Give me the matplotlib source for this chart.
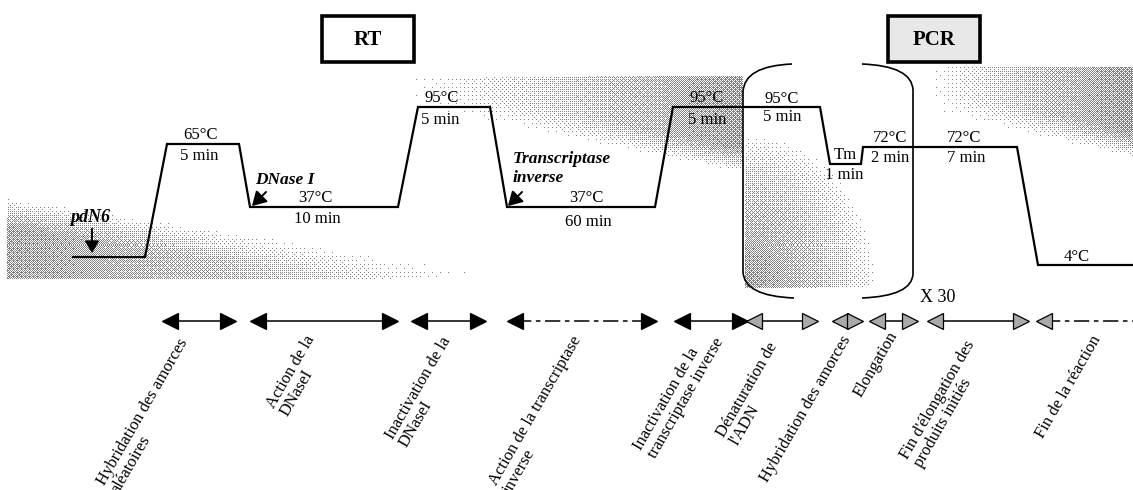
import numpy as np
import matplotlib
matplotlib.use("Agg")
import matplotlib.pyplot as plt
from matplotlib.patches import Rectangle, PathPatch
from matplotlib.path import Path

plt.rcParams['font.family'] = ['Liberation Serif', 'DejaVu Serif']

# thermal profile: plateaus (x start, x end, level) in drawing units
plateau_x0 = [73, 167, 250, 418, 507, 673, 830, 863, 1038]
plateau_x1 = [145, 239, 398, 490, 655, 820, 861, 1017, 1133]
plateau_y = [257, 144, 207, 107, 207, 107, 164, 147, 265]

# step labels: temperature above, duration below
temp_text = ['65°C', '37°C', '95°C', '37°C', '95°C', '95°C', 'Tm', '72°C', '72°C', '4°C']
temp_x = [200, 315, 442, 586, 707, 782, 845, 890, 964, 1077]
temp_y = [135, 198, 98, 198, 98, 99, 155, 138, 138, 257]
dur_text = ['5 min', '10 min', '5 min', '60 min', '5 min', '5 min', '1 min', '2 min', '7 min']
dur_x = [199, 317, 440, 588, 707, 782, 844, 890, 966]
dur_y = [156, 219, 120, 222, 120, 117, 175, 158, 158]

# phase arrows along the bottom
span_x0 = [163, 251, 412, 508, 675, 747, 833, 870, 928, 1037]
span_x1 = [235, 397, 485, 656, 747, 817, 862, 917, 1028, 1140]
span_dashed = [False, False, False, True, False, False, False, False, False, True]
span_head = ['k', 'k', 'k', 'k', 'k', '#aaaaaa', '#aaaaaa', '#aaaaaa', '#aaaaaa', '#aaaaaa']
span_right_head = [True] * 9 + [False]

phase_labels = [
    "Hybridation des amorces\naléatoires",
    "Action de la\nDNaseI",
    "Inactivation de la\nDNaseI",
    "Action de la transcriptase\ninverse",
    "Inactivation de la\ntranscriptase inverse",
    "Dénaturation de\nl'ADN",
    "Hybridation des amorces",
    "Elongation",
    "Fin d'élongation des\nproduits initiés",
    "Fin de la réaction",
]
phase_ax = [177, 304, 440, 571, 699, 767, 840, 887, 964, 1090]
phase_ay = [336, 333, 334, 333, 327, 340, 333, 329, 338, 333]

W, H = 1133, 490
fig = plt.figure(figsize=(W / 100, H / 100), dpi=100)
ax = fig.add_axes([0, 0, 1, 1])
ax.set_xlim(0, W)
ax.set_ylim(H, 0)
ax.axis('off')

# stippled background (ordered dither of a few grey washes)
yy, xx = np.mgrid[0:H, 0:W].astype(float)
dens = np.zeros((H, W))

# bottom left
top = 198 + xx * 0.15
d = 0.6 * np.clip(1 - xx / 480, 0, 1) ** 0.9 * np.clip((yy - top) / 30, 0, 1)
d[(yy > 278) | (xx < 7)] = 0
dens += d
# upper middle band, darker towards the loop
bot = 80 + (xx - 400) * 0.2
d = 0.65 * np.clip((xx - 400) / 340, 0, 1) ** 1.4 * np.clip((bot - yy) / 25 + 1, 0, 1)
d[(yy < 77) | (xx > 742)] = 0
dens += d
# inside the loop
d = 0.65 * np.clip(1 - np.hypot((xx - 745) / 130, (yy - 285) / 150), 0, 1) ** 0.8
d[(xx < 745) | (yy > 287)] = 0
dens += d
# top right
bot = 88 + (xx - 930) * 0.22
d = 0.65 * np.clip((xx - 930) / 200, 0, 1) ** 1.1 * np.clip((bot - yy) / 25 + 1, 0, 1)
d[yy < 68] = 0
dens += d

b = np.array([[0, 2], [3, 1]])
for _ in range(3):
    b = np.block([[4 * b, 4 * b + 2], [4 * b + 3, 4 * b + 1]])
thr = (b + 0.5) / b.size
thr = np.tile(thr, (H // 16 + 1, W // 16 + 1))[:H, :W]
img = np.zeros((H, W, 4))
img[..., :3] = 0.3
img[..., 3] = np.where(dens > thr, 0.7, 0.0)
ax.imshow(img, extent=(0, W, H, 0), origin='upper', interpolation='nearest', zorder=0)

# profile line
px, py = [], []
for x0, x1, y in zip(plateau_x0, plateau_x1, plateau_y):
    px += [x0, x1]
    py += [y, y]
ax.plot(px, py, color='k', lw=1.6, solid_joinstyle='miter', zorder=3)

for t, x, y in zip(temp_text, temp_x, temp_y):
    ax.text(x, y, t, ha='center', va='center', fontsize=12, zorder=4)
for t, x, y in zip(dur_text, dur_x, dur_y):
    ax.text(x, y, t, ha='center', va='center', fontsize=12, zorder=4)

# reagent annotations
arrow = dict(arrowstyle='-|>,head_length=0.6,head_width=0.35', color='k', lw=1.4,
             mutation_scale=14)
ax.text(90, 217, 'pdN6', ha='center', va='center', fontsize=13,
        fontweight='bold', fontstyle='italic', zorder=4)
ax.annotate('', xy=(92, 256), xytext=(92, 226),
            arrowprops=dict(arrow, mutation_scale=12), zorder=4)
ax.text(285, 180, 'DNase I', ha='center', va='center', fontsize=12.5,
        fontweight='bold', fontstyle='italic', zorder=4)
ax.annotate('', xy=(250, 208), xytext=(268, 190), arrowprops=arrow, zorder=4)
ax.text(513, 159, 'Transcriptase', ha='left', va='center', fontsize=12.5,
        fontweight='bold', fontstyle='italic', zorder=4)
ax.text(513, 178, 'inverse', ha='left', va='center', fontsize=12.5,
        fontweight='bold', fontstyle='italic', zorder=4)
ax.annotate('', xy=(506, 208), xytext=(524, 190), arrowprops=arrow, zorder=4)

# PCR loop brackets
C3, L2, MV = Path.CURVE3, Path.LINETO, Path.MOVETO
left = Path([(792, 64), (744, 66), (743, 92), (743, 272), (744, 296), (794, 298)],
            [MV, C3, C3, L2, C3, C3])
right = Path([(862, 64), (912, 66), (913, 90), (913, 274), (912, 296), (862, 298)],
             [MV, C3, C3, L2, C3, C3])
for p in (left, right):
    ax.add_patch(PathPatch(p, facecolor='none', edgecolor='k', lw=1.2, zorder=2))
ax.text(920, 297, 'X 30', ha='left', va='center', fontsize=13)

# phase boxes
for x0, x1, name, fc in [(322, 414, 'RT', 'white'), (888, 980, 'PCR', '#e8e8e8')]:
    ax.add_patch(Rectangle((x0, 16), x1 - x0, 46, facecolor=fc, edgecolor='k',
                           lw=2.6, zorder=5))
    ax.text((x0 + x1) / 2, 40, name, ha='center', va='center', fontsize=15,
            fontweight='bold', zorder=6)

# phase arrows
ya = 321
for x0, x1, dash, hc, rh in zip(span_x0, span_x1, span_dashed, span_head, span_right_head):
    ls = (0, (10, 3, 3, 3)) if dash else '-'
    ax.plot([x0 + 8, x1 - 8 if rh else x1], [ya, ya], color='k', lw=1.1, ls=ls, zorder=3)
    ax.plot([x0 + 7], [ya], marker='<', ms=11, mfc=hc, mec='k', mew=0.9, zorder=4)
    if rh:
        ax.plot([x1 - 7], [ya], marker='>', ms=11, mfc=hc, mec='k', mew=0.9, zorder=4)

for t, x, y in zip(phase_labels, phase_ax, phase_ay):
    ax.text(x, y, t, rotation=60, rotation_mode='anchor', ha='right', va='top',
            multialignment='left', fontsize=12, linespacing=1.0, zorder=4)

fig.savefig('out.png', dpi=100)
